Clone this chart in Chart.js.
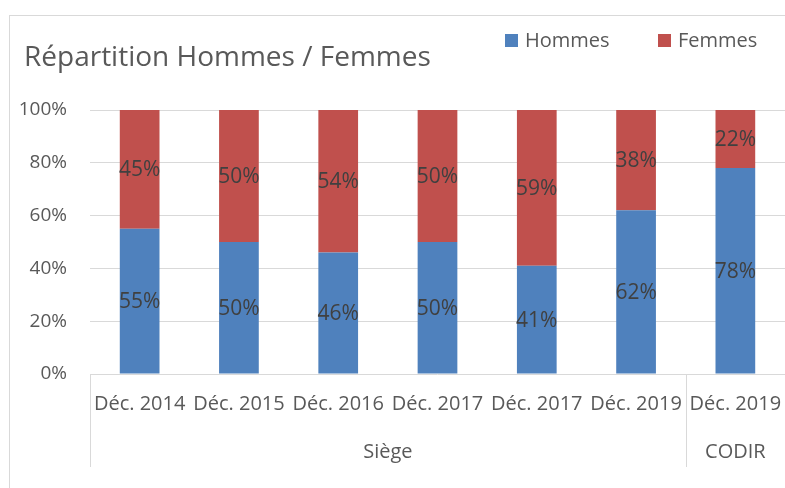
<!DOCTYPE html>
<html>
<head>
<meta charset="utf-8">
<script src="https://cdn.jsdelivr.net/npm/chart.js@4"></script>
<style>
  html, body { margin: 0; padding: 0; background: #fff; }
  #frame { position: absolute; left: 9px; top: 15px; width: 800px; height: 500px; border: 1px solid #d9d9d9; box-sizing: border-box; }
  #wrap { position: absolute; left: 0; top: 0; width: 785px; height: 488px; }
</style>
</head>
<body>
<div id="frame"></div>
<div id="wrap"><canvas id="myChart"></canvas></div>
<script>
// Data
let categories = ['Déc. 2014', 'Déc. 2015', 'Déc. 2016', 'Déc. 2017', 'Déc. 2017', 'Déc. 2019', 'Déc. 2019'];
let hommes = [55, 50, 46, 50, 41, 62, 78];
let femmes = [45, 50, 54, 50, 59, 38, 22];
let yTicks = [0, 20, 40, 60, 80, 100];
let groups = [
    { label: 'Siège', from: 0, to: 5 },
    { label: 'CODIR', from: 6, to: 6 }
];

let fontFamily = "'Open Sans', sans-serif";
let textColor = '#595959';

// Draws title, legend, data labels and the group row under the axis
let decorPlugin = {
    id: 'decor',
    afterDraw: function (chart) {
        let ctx = chart.ctx;
        let x = chart.scales.x;
        let area = chart.chartArea;
        ctx.save();

        // title
        ctx.fillStyle = textColor;
        ctx.font = '28px ' + fontFamily;
        ctx.textAlign = 'left';
        ctx.textBaseline = 'middle';
        ctx.fillText('Répartition Hommes / Femmes', 24, 58);

        // legend
        ctx.font = '20px ' + fontFamily;
        let legendX = [505, 658];
        chart.data.datasets.forEach(function (ds, i) {
            ctx.fillStyle = ds.backgroundColor;
            ctx.fillRect(legendX[i], 34, 13, 13);
            ctx.fillStyle = textColor;
            ctx.fillText(ds.label, legendX[i] + 20, 41);
        });

        // data labels
        ctx.font = '21px ' + fontFamily;
        ctx.fillStyle = '#404040';
        ctx.textAlign = 'center';
        chart.data.datasets.forEach(function (ds, i) {
            chart.getDatasetMeta(i).data.forEach(function (bar, j) {
                ctx.fillText(ds.data[j] + '%', bar.x, (bar.y + bar.base) / 2 + 1);
            });
        });

        // group labels and separators
        ctx.strokeStyle = '#d9d9d9';
        ctx.lineWidth = 1;
        ctx.font = '20px ' + fontFamily;
        ctx.fillStyle = textColor;
        groups.forEach(function (g) {
            let left = x.getPixelForValue(g.from - 0.5);
            let right = x.getPixelForValue(g.to + 0.5);
            ctx.fillText(g.label, (left + right) / 2, 452);
            [left, right].forEach(function (px) {
                let p = Math.round(px) + 0.5;
                ctx.beginPath();
                ctx.moveTo(p, area.bottom);
                ctx.lineTo(p, 467);
                ctx.stroke();
            });
        });
        ctx.restore();
    }
};

document.addEventListener('DOMContentLoaded', function () {
    let ctx = document.getElementById('myChart').getContext('2d');

    let data = {
        labels: categories,
        datasets: [{
            label: 'Hommes',
            data: hommes,
            backgroundColor: '#4F81BD',
            barPercentage: 0.4,
            categoryPercentage: 1.0
        }, {
            label: 'Femmes',
            data: femmes,
            backgroundColor: '#C0504D',
            barPercentage: 0.4,
            categoryPercentage: 1.0
        }]
    };

    let options = {
        responsive: true,
        maintainAspectRatio: false,
        animation: false,
        layout: { padding: { top: 110, left: 0, right: 0, bottom: 0 } },
        plugins: {
            legend: { display: false },
            title: { display: false },
            tooltip: { enabled: false }
        },
        scales: {
            x: {
                stacked: true,
                grid: { display: false, drawTicks: false },
                border: { display: false },
                ticks: {
                    color: textColor,
                    font: { family: fontFamily, size: 20 },
                    padding: 18,
                    maxRotation: 0,
                    autoSkip: false
                },
                afterFit: function (scale) {
                    scale.height = 114;
                    scale.paddingLeft = 0;
                    scale.paddingRight = 0;
                }
            },
            y: {
                stacked: true,
                min: 0,
                max: 100,
                afterBuildTicks: function (scale) {
                    scale.ticks = yTicks.map(function (v) { return { value: v }; });
                },
                grid: { color: '#d9d9d9', drawTicks: false },
                border: { display: false },
                ticks: {
                    color: textColor,
                    font: { family: fontFamily, size: 19 },
                    padding: 23,
                    callback: function (v) { return v + '%'; }
                },
                afterFit: function (scale) {
                    scale.width = 90;
                    scale.paddingTop = 0;
                    scale.paddingBottom = 0;
                }
            }
        }
    };

    new Chart(ctx, {
        type: 'bar',
        data: data,
        options: options,
        plugins: [decorPlugin]
    });
});
</script>
</body>
</html>
